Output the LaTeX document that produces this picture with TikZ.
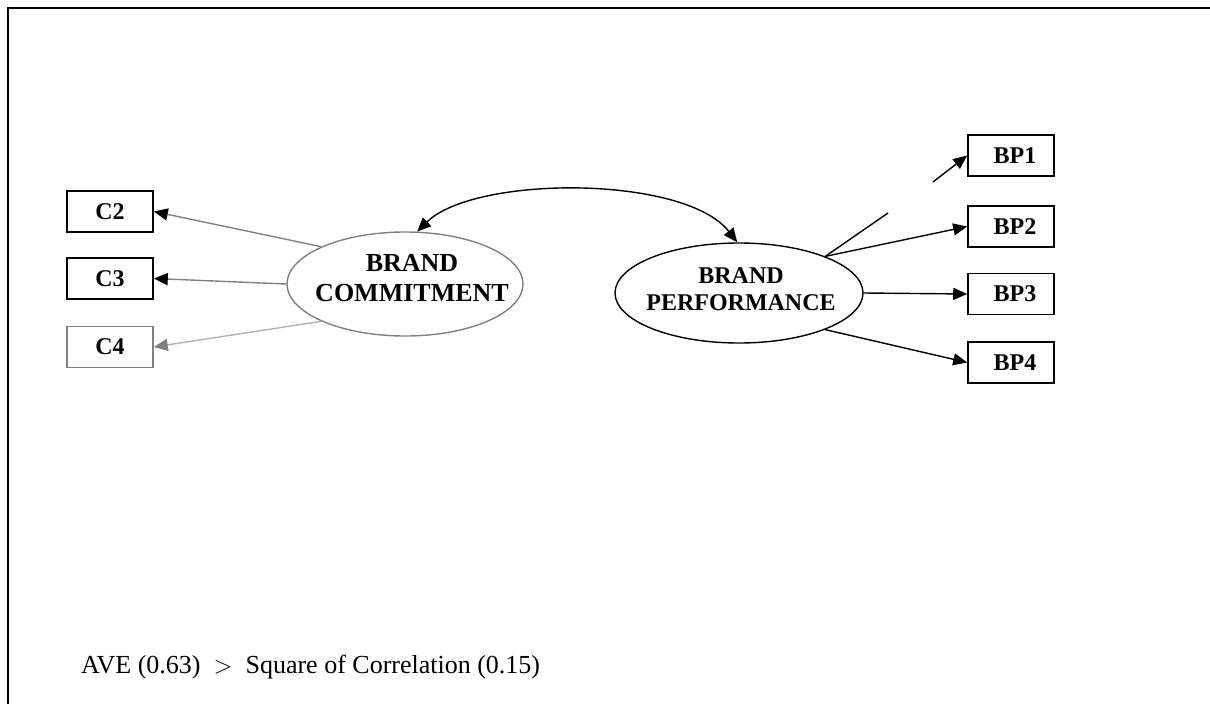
\documentclass[tikz,border=0pt]{standalone}
\usepackage{fontspec}
\setmainfont{Liberation Serif}
\usetikzlibrary{arrows.meta,shapes.geometric}
\tikzset{
  ind/.style={draw=black,line width=1.6pt,minimum width=86pt,minimum height=41pt,inner sep=0pt,font=\fontsize{24}{26}\selectfont\bfseries},
  lat/.style={ellipse,draw=black,line width=1.4pt,inner sep=0pt},
  lattext/.style={inner sep=0pt,align=center},
  tip/.style={-{Triangle[length=14pt,width=12pt]}},
  con/.style={line width=1.4pt}
}
\begin{document}
\begin{tikzpicture}[x=1pt,y=-1pt]
\useasboundingbox (0,0) rectangle (1210,704);
\draw[line width=2pt] (7.5,720) -- (7.5,7.5) -- (1230,7.5);

\node[lat,draw=gray,minimum width=236pt,minimum height=104pt] (bc) at (405,284) {};
\node[lattext,font=\fontsize{26}{30}\selectfont\bfseries] (bctext) at (412,278) {BRAND\\COMMITMENT};
\node[lat,minimum width=248pt,minimum height=100pt] (bp) at (739,293) {};
\node[lattext,font=\fontsize{24}{27}\selectfont\bfseries] (bptext) at (741,289) {BRAND\\PERFORMANCE};

\node[ind] (c2) at (110,211.5) {C2};
\node[ind] (c3) at (110,278.5) {C3};
\node[ind,draw=gray] (c4) at (110,347) {C4};

\node[ind] (bp1) at (1011,155.5) {\hspace{8pt}BP1};
\node[ind] (bp2) at (1011,226.5) {\hspace{8pt}BP2};
\node[ind] (bp3) at (1011,294) {\hspace{8pt}BP3};
\node[ind] (bp4) at (1011,362.5) {\hspace{8pt}BP4};

\draw[con,gray,-{Triangle[length=14pt,width=12pt,color=black]}] (bc.156) -- (c2.east);
\draw[con,gray,-{Triangle[length=14pt,width=12pt,color=black]}] (bc.west) -- (c3.east);
\draw[con,gray!60,-{Triangle[length=14pt,width=12pt,color=gray]}] (bc.204) -- (c4.east);

\coordinate (g1) at (888,213);
\coordinate (g2) at (933,182);
\draw[con] (bp.23) -- (g1);
\draw[con,tip] (g2) -- (bp1.west);
\draw[con,tip] (bp.23) -- (bp2.west);
\draw[con,tip] (bp.east) -- (bp3.west);
\draw[con,tip] (bp.-23) -- (bp4.west);

\draw[con,{Triangle[length=14pt,width=12pt]}-{Triangle[length=14pt,width=12pt]}] (bc.77) .. controls (475,175) and (685,175) .. (bp.92);

\node[anchor=base west,inner sep=0pt,font=\fontsize{26}{28}\selectfont] (ave) at (81,673) {AVE (0.63) \ $>$ \ Square of Correlation (0.15)};
\end{tikzpicture}
\end{document}
